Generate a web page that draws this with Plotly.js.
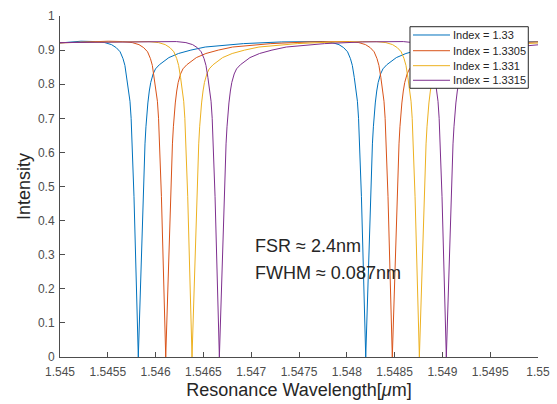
<!DOCTYPE html>
<html>
<head>
<meta charset="utf-8">
<script src="https://cdn.plot.ly/plotly-3.0.1.min.js"></script>
<style>html,body{margin:0;padding:0;background:#fff;}#chart{width:557px;height:404px;}</style>
</head>
<body>
<div id="chart"></div>
<script>
// Series names (legend)
const seriesNames = ['Index = 1.33', 'Index = 1.3305', 'Index = 1.331', 'Index = 1.3315'];
// Dip (resonance) wavelengths, in micrometres: [first dip, second dip]
const dipsBlue   = [1.545819, 1.548198];
const dipsOrange = [1.546106, 1.548476];
const dipsYellow = [1.546381, 1.548759];
const dipsPurple = [1.546667, 1.549041];
// Shape of one dip: offset from the dip centre (nm) and intensity
const dipOffsetNm = [-0.60, -0.45, -0.35, -0.28, -0.23, -0.19, -0.16, -0.14, -0.12, -0.10, -0.087, -0.075, -0.063, -0.05, -0.045, 0,
                      0.05, 0.06, 0.07, 0.08, 0.09, 0.10, 0.115, 0.13, 0.155, 0.18, 0.22, 0.25, 0.32, 0.42, 0.55, 0.70, 0.90, 1.10, 1.50];
const dipIntensity = [0.926, 0.925, 0.922, 0.916, 0.907, 0.895, 0.875, 0.855, 0.82, 0.78, 0.75, 0.70, 0.62, 0.52, 0.47, 0,
                      0.48, 0.56, 0.625, 0.675, 0.715, 0.745, 0.78, 0.805, 0.83, 0.845, 0.857, 0.864, 0.878, 0.890, 0.900, 0.909, 0.915, 0.919, 0.924];
// Intensity at the left edge (1.545 um) and far right of each series
const leftEdgeWl = 1.545;
const leftEdgeIntensity = [0.921, 0.921, 0.922, 0.922];
const rightEdgeWl = 1.5506;
const rightEdgeIntensity = [0.925, 0.925, 0.924, 0.923];
// Tick labels
const xTickVals = [1.545, 1.5455, 1.546, 1.5465, 1.547, 1.5475, 1.548, 1.5485, 1.549, 1.5495, 1.55];
const xTickText = ['1.545', '1.5455', '1.546', '1.5465', '1.547', '1.5475', '1.548', '1.5485', '1.549', '1.5495', '1.55'];
const yTickVals = [0, 0.1, 0.2, 0.3, 0.4, 0.5, 0.6, 0.7, 0.8, 0.9, 1];
const yTickText = ['0', '0.1', '0.2', '0.3', '0.4', '0.5', '0.6', '0.7', '0.8', '0.9', '1'];

const colors = ['#0072BD', '#D95319', '#EDB120', '#7E2F8E'];
const allDips = [dipsBlue, dipsOrange, dipsYellow, dipsPurple];
const FONT = 'Liberation Sans, Arial, sans-serif';

const traces = allDips.map((dips, i) => {
  const x = [leftEdgeWl], y = [leftEdgeIntensity[i]];
  dips.forEach(c => {
    dipOffsetNm.forEach((d, k) => { x.push(c + d / 1000); y.push(dipIntensity[k]); });
  });
  x.push(rightEdgeWl); y.push(rightEdgeIntensity[i]);
  return {x, y, type: 'scatter', mode: 'lines', name: seriesNames[i],
          line: {color: colors[i], width: 1}, showlegend: false};
});

// Legend box drawn as layout shapes/annotations (MATLAB-style compact legend)
const legBox = {x0: 0.7322, x1: 0.9797, y0: 0.788, y1: 0.9686};
const legRowY = [0.9443, 0.8982, 0.8543, 0.8115];
const shapes = [{type: 'rect', xref: 'paper', yref: 'paper', x0: legBox.x0, x1: legBox.x1, y0: legBox.y0, y1: legBox.y1,
                 fillcolor: '#ffffff', line: {color: '#262626', width: 1}, layer: 'above'}];
const annotations = [];
seriesNames.forEach((nm, i) => {
  shapes.push({type: 'line', xref: 'paper', yref: 'paper', x0: 0.7385, x1: 0.8159, y0: legRowY[i], y1: legRowY[i],
               line: {color: colors[i], width: 1}, layer: 'above'});
  annotations.push({xref: 'paper', yref: 'paper', x: 0.8185, y: legRowY[i], xanchor: 'left', yanchor: 'middle',
                    text: nm, showarrow: false, font: {family: FONT, size: 11, color: '#262626'}});
});
annotations.push(
  {xref: 'paper', yref: 'paper', x: 0.404, y: 0.325, xanchor: 'left', yanchor: 'middle',
   text: 'FSR ≈ 2.4nm', showarrow: false, font: {family: FONT, size: 18, color: '#262626'}},
  {xref: 'paper', yref: 'paper', x: 0.404, y: 0.247, xanchor: 'left', yanchor: 'middle',
   text: 'FWHM ≈ 0.087nm', showarrow: false, font: {family: FONT, size: 18, color: '#262626'}}
);

const axisCommon = {
  showgrid: false, zeroline: false, showline: true, linecolor: '#4d4d4d', linewidth: 1,
  ticks: 'inside', ticklen: 5, tickcolor: '#4d4d4d', tickwidth: 1,
  tickfont: {family: FONT, size: 12, color: '#4d4d4d'},
  mirror: false
};

const layout = {
  width: 557, height: 404,
  margin: {l: 60, r: 19, t: 16, b: 47, pad: 0},
  paper_bgcolor: '#ffffff', plot_bgcolor: '#ffffff',
  showlegend: false,
  font: {family: FONT},
  xaxis: Object.assign({}, axisCommon, {
    range: [1.545, 1.55], tickmode: 'array', tickvals: xTickVals, ticktext: xTickText,
    ticklabelstandoff: 4,
    title: {text: 'Resonance Wavelength[<i>μ</i>m]', standoff: 4,
            font: {family: FONT, size: 18, color: '#262626'}}
  }),
  yaxis: Object.assign({}, axisCommon, {
    range: [0, 1], tickmode: 'array', tickvals: yTickVals, ticktext: yTickText,
    ticklabelstandoff: 2,
    title: {text: 'Intensity', standoff: 2,
            font: {family: FONT, size: 18, color: '#262626'}}
  }),
  shapes: shapes,
  annotations: annotations
};

Plotly.newPlot('chart', traces, layout, {displayModeBar: false, staticPlot: true});
</script>
</body>
</html>
